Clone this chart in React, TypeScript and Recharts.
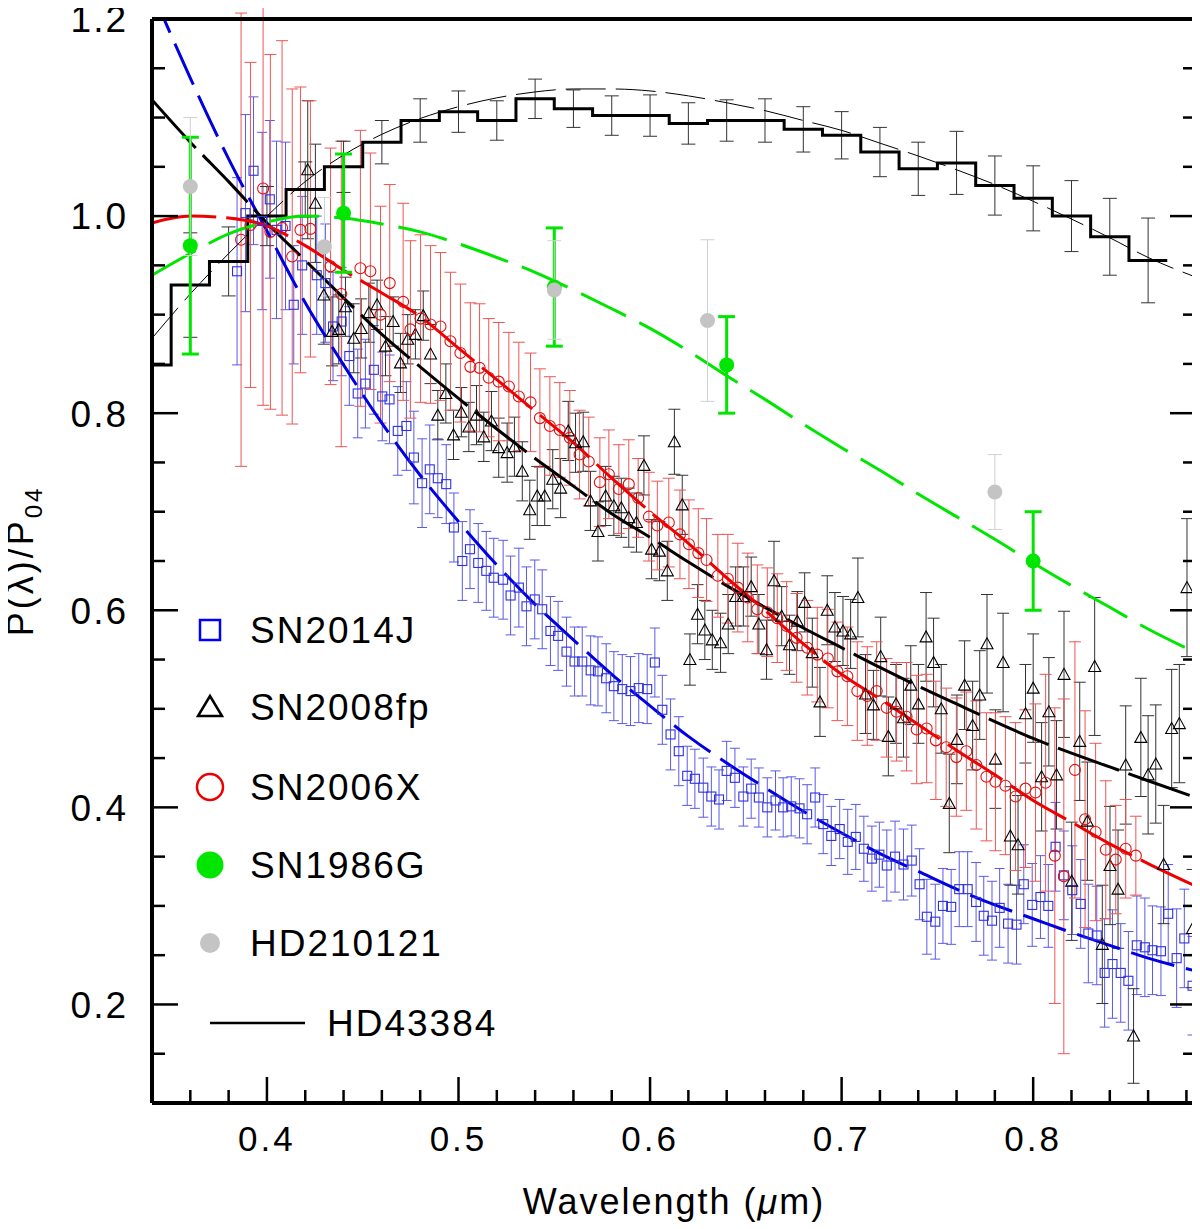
import { ComposedChart, ErrorBar, Legend, Line, Scatter, XAxis, YAxis } from "recharts";

// Observed polarisation, normalised at 0.4 um: [wavelength um, P/P04, 1-sigma]
const sn2014j: number[][] = [
  [0.3844, 0.944, 0.095], [0.3888, 1.003, 0.1], [0.393, 1.046, 0.075], [0.3975, 0.995, 0.09],
  [0.4015, 1.017, 0.08], [0.405, 0.986, 0.09], [0.4097, 0.99, 0.085], [0.414, 0.91, 0.06],
  [0.4184, 0.95, 0.07], [0.426, 0.94, 0.06], [0.4305, 0.932, 0.06], [0.4345, 0.888, 0.055],
  [0.439, 0.893, 0.055], [0.443, 0.858, 0.05], [0.4474, 0.82, 0.045], [0.4514, 0.83, 0.045],
  [0.4558, 0.844, 0.045], [0.4602, 0.817, 0.045], [0.464, 0.814, 0.045], [0.4683, 0.782, 0.045],
  [0.4728, 0.787, 0.045], [0.4767, 0.755, 0.047], [0.481, 0.729, 0.045], [0.485, 0.743, 0.045],
  [0.4892, 0.734, 0.04], [0.4936, 0.728, 0.04], [0.4976, 0.684, 0.035], [0.502, 0.65, 0.04],
  [0.506, 0.662, 0.04], [0.5103, 0.648, 0.04], [0.5145, 0.64, 0.04], [0.5184, 0.633, 0.04],
  [0.5233, 0.631, 0.04], [0.5272, 0.615, 0.04], [0.5315, 0.623, 0.04], [0.5355, 0.604, 0.04],
  [0.5398, 0.611, 0.04], [0.5437, 0.601, 0.04], [0.548, 0.579, 0.035], [0.552, 0.574, 0.035],
  [0.5564, 0.558, 0.035], [0.5606, 0.548, 0.035], [0.5646, 0.548, 0.035], [0.569, 0.539, 0.035],
  [0.5728, 0.538, 0.035], [0.5771, 0.531, 0.035], [0.5811, 0.523, 0.035], [0.5855, 0.52, 0.035],
  [0.5898, 0.518, 0.035], [0.5941, 0.521, 0.035], [0.5985, 0.52, 0.035], [0.6025, 0.547, 0.035],
  [0.6064, 0.499, 0.035], [0.6107, 0.474, 0.036], [0.615, 0.457, 0.035], [0.6194, 0.432, 0.03],
  [0.6234, 0.429, 0.03], [0.6278, 0.42, 0.03], [0.632, 0.411, 0.03], [0.636, 0.408, 0.03],
  [0.64, 0.437, 0.03], [0.6443, 0.43, 0.03], [0.6487, 0.411, 0.03], [0.6528, 0.419, 0.03],
  [0.6568, 0.41, 0.03], [0.6612, 0.4, 0.03], [0.6655, 0.407, 0.03], [0.6695, 0.4, 0.03],
  [0.6737, 0.401, 0.03], [0.678, 0.399, 0.03], [0.682, 0.393, 0.03], [0.6862, 0.41, 0.03],
  [0.6904, 0.383, 0.03], [0.6946, 0.371, 0.03], [0.699, 0.378, 0.03], [0.7032, 0.365, 0.033],
  [0.7074, 0.37, 0.033], [0.7116, 0.358, 0.033], [0.7158, 0.348, 0.033], [0.7197, 0.352, 0.033],
  [0.7236, 0.341, 0.036], [0.7279, 0.35, 0.036], [0.7323, 0.342, 0.036], [0.7366, 0.346, 0.036],
  [0.7407, 0.322, 0.036], [0.7445, 0.289, 0.038], [0.7489, 0.284, 0.038], [0.7529, 0.3, 0.038],
  [0.7572, 0.299, 0.038], [0.7614, 0.317, 0.038], [0.7658, 0.317, 0.038], [0.7702, 0.304, 0.04],
  [0.7742, 0.29, 0.04], [0.7785, 0.285, 0.04], [0.7825, 0.298, 0.04], [0.7869, 0.282, 0.04],
  [0.7913, 0.281, 0.04], [0.7951, 0.322, 0.04], [0.7995, 0.301, 0.042], [0.8038, 0.309, 0.042],
  [0.8079, 0.3, 0.042], [0.8117, 0.36, 0.045], [0.816, 0.331, 0.045], [0.8204, 0.316, 0.045],
  [0.8248, 0.302, 0.045], [0.8288, 0.272, 0.05], [0.8332, 0.27, 0.05], [0.8373, 0.232, 0.055],
  [0.8414, 0.241, 0.055], [0.8457, 0.232, 0.05], [0.8497, 0.224, 0.05], [0.8541, 0.26, 0.05],
  [0.8583, 0.258, 0.05], [0.8623, 0.255, 0.045], [0.8667, 0.254, 0.045], [0.8705, 0.292, 0.05],
  [0.8749, 0.247, 0.05], [0.8789, 0.267, 0.05], [0.8832, 0.219, 0.05],
];

const sn2008fp: number[][] = [
  [0.4213, 1.047, 0.07], [0.4253, 1.013, 0.06], [0.4297, 0.92, 0.05], [0.434, 0.883, 0.035],
  [0.4375, 0.885, 0.035], [0.441, 0.908, 0.03], [0.4453, 0.876, 0.035], [0.4492, 0.886, 0.03],
  [0.4532, 0.902, 0.03], [0.4575, 0.91, 0.025], [0.4619, 0.868, 0.03], [0.4659, 0.893, 0.025],
  [0.4697, 0.851, 0.03], [0.4735, 0.875, 0.025], [0.4775, 0.88, 0.025], [0.4816, 0.899, 0.025],
  [0.4854, 0.86, 0.03], [0.4892, 0.798, 0.025], [0.4934, 0.82, 0.03], [0.4974, 0.778, 0.025],
  [0.5015, 0.801, 0.025], [0.5054, 0.786, 0.025], [0.5094, 0.798, 0.03], [0.5132, 0.776, 0.025],
  [0.5172, 0.792, 0.03], [0.521, 0.765, 0.03], [0.5254, 0.76, 0.03], [0.5292, 0.766, 0.03],
  [0.5333, 0.741, 0.03], [0.5372, 0.702, 0.03], [0.5411, 0.716, 0.03], [0.545, 0.716, 0.03],
  [0.5492, 0.733, 0.03], [0.5533, 0.724, 0.03], [0.5573, 0.782, 0.03], [0.5611, 0.77, 0.03],
  [0.5651, 0.771, 0.03], [0.5689, 0.711, 0.03], [0.5728, 0.68, 0.03], [0.5768, 0.716, 0.03],
  [0.5811, 0.706, 0.03], [0.585, 0.704, 0.03], [0.5889, 0.694, 0.03], [0.5929, 0.689, 0.03],
  [0.5968, 0.747, 0.03], [0.6008, 0.662, 0.03], [0.6049, 0.66, 0.03], [0.609, 0.64, 0.03],
  [0.6127, 0.771, 0.033], [0.6168, 0.707, 0.03], [0.6208, 0.55, 0.026], [0.6248, 0.596, 0.03],
  [0.6286, 0.58, 0.03], [0.6325, 0.57, 0.03], [0.6368, 0.567, 0.03], [0.6408, 0.586, 0.03],
  [0.6447, 0.614, 0.03], [0.6487, 0.614, 0.03], [0.6528, 0.624, 0.03], [0.6568, 0.586, 0.03],
  [0.6608, 0.56, 0.03], [0.6647, 0.63, 0.04], [0.6687, 0.594, 0.03], [0.6728, 0.565, 0.03],
  [0.6769, 0.589, 0.03], [0.6807, 0.608, 0.03], [0.6847, 0.557, 0.035], [0.6887, 0.507, 0.035],
  [0.6925, 0.6, 0.035], [0.6965, 0.583, 0.035], [0.7007, 0.579, 0.035], [0.7047, 0.576, 0.035],
  [0.7085, 0.613, 0.04], [0.7125, 0.515, 0.04], [0.7166, 0.504, 0.035], [0.7204, 0.553, 0.04],
  [0.7244, 0.472, 0.04], [0.7284, 0.505, 0.04], [0.7323, 0.491, 0.04], [0.7361, 0.524, 0.04],
  [0.7401, 0.505, 0.04], [0.7441, 0.573, 0.045], [0.748, 0.547, 0.045], [0.752, 0.5, 0.045],
  [0.7562, 0.404, 0.05], [0.7602, 0.469, 0.045], [0.7642, 0.524, 0.045], [0.7684, 0.483, 0.045],
  [0.7721, 0.514, 0.045], [0.7759, 0.566, 0.05], [0.7803, 0.449, 0.05], [0.7843, 0.547, 0.05],
  [0.7881, 0.371, 0.05], [0.7921, 0.362, 0.05], [0.796, 0.495, 0.05], [0.8, 0.521, 0.055],
  [0.8044, 0.431, 0.055], [0.8082, 0.497, 0.055], [0.8122, 0.433, 0.055], [0.8161, 0.535, 0.064],
  [0.8201, 0.325, 0.06], [0.8243, 0.467, 0.06], [0.8283, 0.386, 0.06], [0.8321, 0.543, 0.07],
  [0.8361, 0.261, 0.06], [0.8401, 0.341, 0.06], [0.8443, 0.317, 0.06], [0.8483, 0.443, 0.06],
  [0.8524, 0.168, 0.048], [0.8562, 0.471, 0.06], [0.86, 0.433, 0.06], [0.864, 0.444, 0.06],
  [0.8681, 0.342, 0.06], [0.8723, 0.48, 0.06], [0.8763, 0.485, 0.06], [0.8803, 0.623, 0.07],
  [0.8832, 0.277, 0.06],
];

const sn2006x: number[][] = [
  [0.3865, 0.976, 0.23], [0.3914, 0.991, 0.165], [0.398, 1.028, 0.22], [0.4018, 0.984, 0.18],
  [0.4079, 0.988, 0.19], [0.4132, 0.959, 0.17], [0.4175, 0.986, 0.145], [0.4227, 0.987, 0.13],
  [0.4332, 0.949, 0.12], [0.4388, 0.921, 0.155], [0.4488, 0.947, 0.14], [0.454, 0.944, 0.12],
  [0.4593, 0.9, 0.11], [0.4641, 0.932, 0.1], [0.4711, 0.913, 0.1], [0.4749, 0.885, 0.09],
  [0.4802, 0.896, 0.085], [0.4854, 0.89, 0.08], [0.4906, 0.888, 0.075], [0.4958, 0.873, 0.07],
  [0.501, 0.861, 0.07], [0.5062, 0.847, 0.065], [0.511, 0.846, 0.065], [0.5158, 0.836, 0.06],
  [0.521, 0.832, 0.06], [0.5263, 0.827, 0.055], [0.5315, 0.817, 0.055], [0.5376, 0.811, 0.05],
  [0.5425, 0.795, 0.05], [0.5477, 0.787, 0.05], [0.5529, 0.783, 0.048], [0.5581, 0.775, 0.048],
  [0.5632, 0.758, 0.045], [0.568, 0.751, 0.045], [0.5738, 0.73, 0.045], [0.5785, 0.738, 0.045],
  [0.5837, 0.723, 0.045], [0.5889, 0.728, 0.045], [0.5938, 0.714, 0.04], [0.5994, 0.695, 0.045],
  [0.6038, 0.686, 0.045], [0.6098, 0.689, 0.045], [0.6156, 0.677, 0.045], [0.6203, 0.667, 0.045],
  [0.6252, 0.658, 0.045], [0.6295, 0.651, 0.042], [0.6354, 0.635, 0.042], [0.6406, 0.632, 0.045],
  [0.6458, 0.623, 0.045], [0.651, 0.613, 0.045], [0.656, 0.601, 0.045], [0.6612, 0.598, 0.045],
  [0.6664, 0.592, 0.045], [0.6713, 0.584, 0.045], [0.6765, 0.572, 0.045], [0.6821, 0.562, 0.048],
  [0.6873, 0.555, 0.048], [0.6928, 0.551, 0.05], [0.6978, 0.538, 0.05], [0.703, 0.533, 0.05],
  [0.7082, 0.518, 0.05], [0.7134, 0.513, 0.05], [0.7183, 0.518, 0.05], [0.7235, 0.501, 0.05],
  [0.7287, 0.497, 0.05], [0.7339, 0.492, 0.055], [0.7392, 0.479, 0.055], [0.7444, 0.48, 0.055],
  [0.7492, 0.468, 0.06], [0.7546, 0.461, 0.06], [0.7599, 0.451, 0.06], [0.7651, 0.457, 0.06],
  [0.7703, 0.443, 0.065], [0.7756, 0.431, 0.065], [0.7803, 0.426, 0.07], [0.7855, 0.422, 0.07],
  [0.7908, 0.411, 0.075], [0.796, 0.419, 0.08], [0.8012, 0.415, 0.09], [0.8065, 0.425, 0.11],
  [0.8113, 0.351, 0.15], [0.816, 0.33, 0.18], [0.8218, 0.438, 0.13], [0.8271, 0.388, 0.11],
  [0.8326, 0.375, 0.09], [0.8379, 0.357, 0.07], [0.8431, 0.347, 0.055], [0.8483, 0.358, 0.05],
  [0.8536, 0.351, 0.04],
];

const sn1986g: number[][] = [
  [0.36, 0.97, 0.11], [0.44, 1.003, 0.06], [0.55, 0.928, 0.06], [0.64, 0.849, 0.049], [0.8, 0.65, 0.05],
];

const hd210121: number[][] = [
  [0.36, 1.03, 0.07], [0.43, 0.969, 0.05], [0.55, 0.925, 0.05], [0.63, 0.894, 0.082], [0.78, 0.72, 0.038],
];

// HD43384 binned curve (bin centre, value, error)
const hd43384Bins = [
  0.34, 0.36, 0.38, 0.4, 0.42, 0.44, 0.46, 0.48, 0.5, 0.52, 0.54, 0.56, 0.58, 0.6,
  0.62, 0.64, 0.66, 0.68, 0.7, 0.72, 0.74, 0.76, 0.78, 0.8, 0.82, 0.84, 0.86,
];
const hd43384Values = [
  0.849, 0.93, 0.954, 1.0, 1.027, 1.05, 1.075, 1.097, 1.106, 1.097, 1.119, 1.109, 1.102, 1.102,
  1.094, 1.097, 1.097, 1.088, 1.082, 1.065, 1.048, 1.054, 1.031, 1.018, 1.0, 0.979, 0.955,
];
const hd43384Errors = [
  null, 0.053, 0.035, 0.03, 0.028, 0.026, 0.022, 0.022, 0.021, 0.02, 0.02, 0.019, 0.02, 0.021,
  0.021, 0.021, 0.022, 0.023, 0.024, 0.025, 0.027, 0.032, 0.03, 0.033, 0.036, 0.039, 0.043,
];

// Fitted curves on a common wavelength grid
const fitGrid = [
  0.34, 0.36, 0.38, 0.4, 0.42, 0.44, 0.46, 0.48, 0.5, 0.52, 0.54, 0.56, 0.58, 0.6,
  0.62, 0.64, 0.66, 0.68, 0.7, 0.72, 0.74, 0.76, 0.78, 0.8, 0.82, 0.84, 0.86, 0.885,
];
const fitSN2014J = [
  1.228, 1.14, 1.058, 0.985, 0.912, 0.849, 0.79, 0.737, 0.69, 0.646, 0.606, 0.57, 0.535, 0.503,
  0.472, 0.445, 0.42, 0.396, 0.374, 0.353, 0.335, 0.317, 0.301, 0.287, 0.273, 0.26, 0.247, 0.234,
];
const fitSN2008fp = [
  1.118, 1.075, 1.035, 0.993, 0.955, 0.917, 0.88, 0.847, 0.815, 0.784, 0.754, 0.726, 0.698, 0.674,
  0.649, 0.625, 0.603, 0.582, 0.562, 0.542, 0.523, 0.505, 0.487, 0.47, 0.455, 0.441, 0.427, 0.41,
];
const fitSN2006X = [
  0.993, 1.0, 0.998, 0.99, 0.97, 0.945, 0.922, 0.898, 0.866, 0.834, 0.802, 0.77, 0.734, 0.7,
  0.668, 0.633, 0.6, 0.566, 0.535, 0.51, 0.484, 0.458, 0.433, 0.407, 0.385, 0.363, 0.343, 0.32,
];
const fitSN1986G = [
  0.94, 0.962, 0.982, 0.994, 1.0, 0.998, 0.992, 0.984, 0.972, 0.958, 0.943, 0.925, 0.906, 0.886,
  0.863, 0.838, 0.814, 0.789, 0.765, 0.742, 0.718, 0.695, 0.672, 0.648, 0.625, 0.603, 0.581, 0.557,
];
const fitHD43384 = [
  0.876, 0.921, 0.962, 1.0, 1.035, 1.062, 1.083, 1.099, 1.111, 1.12, 1.126, 1.129, 1.129, 1.127,
  1.122, 1.115, 1.107, 1.097, 1.087, 1.074, 1.061, 1.047, 1.032, 1.015, 0.997, 0.978, 0.958, 0.938,
];

const xTicks = [
  0.34, 0.36, 0.38, 0.4, 0.42, 0.44, 0.46, 0.48, 0.5, 0.52, 0.54, 0.56, 0.58, 0.6,
  0.62, 0.64, 0.66, 0.68, 0.7, 0.72, 0.74, 0.76, 0.78, 0.8, 0.82, 0.84, 0.86, 0.88,
];
const yTicks = [
  0.1, 0.15, 0.2, 0.25, 0.3, 0.35, 0.4, 0.45, 0.5, 0.55, 0.6, 0.65,
  0.7, 0.75, 0.8, 0.85, 0.9, 0.95, 1.0, 1.05, 1.1, 1.15, 1.2,
];

const legendNames = ["SN2014J", "SN2008fp", "SN2006X", "SN1986G", "HD210121", "HD43384"];

const FONT = '"Liberation Sans", Arial, sans-serif';
const X_DOMAIN: [number, number] = [0.34, 0.885];
const Y_DOMAIN: [number, number] = [0.1, 1.2];

const toPoints = (rows: number[][]) => rows.map(([x, y, e]) => ({ x, y, e }));
const fitRows = (ys: number[]) => fitGrid.map((x, i) => ({ x, y: ys[i] }));

// step edges sit half a bin (0.01 um) either side of the bin centres
const histStep = [
  ...hd43384Bins.map((c, i) => ({ x: c - 0.01, y: hd43384Values[i] })),
  { x: hd43384Bins[hd43384Bins.length - 1] + 0.01, y: hd43384Values[hd43384Values.length - 1] },
];
const histErr = hd43384Bins
  .map((x, i) => ({ x, y: hd43384Values[i], e: hd43384Errors[i] }))
  .filter((p) => p.e != null);

const isMajorX = (v: number) => Math.abs(v * 10 - Math.round(v * 10)) < 1e-6;
const isMajorY = (v: number) => Math.abs(v * 5 - Math.round(v * 5)) < 1e-6;
const MAJOR = 26;
const MINOR = 13;

function BottomTick({ x, y, payload }: any) {
  const major = isMajorX(payload.value);
  return (
    <g>
      <line x1={x} x2={x} y1={y} y2={y - (major ? MAJOR : MINOR)} stroke="#000" strokeWidth={2.5} />
      {major && (
        <text x={x} y={y + 48} textAnchor="middle" fontSize={35} letterSpacing={3} fontFamily={FONT} fill="#000">
          {payload.value.toFixed(1)}
        </text>
      )}
    </g>
  );
}

function TopTick({ x, y, payload }: any) {
  const major = isMajorX(payload.value);
  return <line x1={x} x2={x} y1={y} y2={y + (major ? MAJOR : MINOR)} stroke="#000" strokeWidth={2.5} />;
}

function LeftTick({ x, y, payload }: any) {
  const major = isMajorY(payload.value);
  return (
    <g>
      <line x1={x} x2={x + (major ? MAJOR : MINOR)} y1={y} y2={y} stroke="#000" strokeWidth={2.5} />
      {major && (
        <text x={x - 24} y={y} dy="0.36em" textAnchor="end" fontSize={37} letterSpacing={2} fontFamily={FONT} fill="#000">
          {payload.value.toFixed(1)}
        </text>
      )}
    </g>
  );
}

function RightTick({ x, y, payload }: any) {
  const major = isMajorY(payload.value);
  return <line x1={x} x2={x - (major ? MAJOR : MINOR)} y1={y} y2={y} stroke="#000" strokeWidth={2.5} />;
}

function XTitle({ viewBox }: any) {
  return (
    <text x={viewBox.x + viewBox.width / 2} y={1214} textAnchor="middle" fontSize={36} letterSpacing={2} fontFamily={FONT} fill="#000">
      Wavelength (<tspan fontStyle="italic">μ</tspan>m)
    </text>
  );
}

function YTitle({ viewBox }: any) {
  const cy = viewBox.y + viewBox.height / 2;
  return (
    <text transform={`translate(33, ${cy}) rotate(-90)`} textAnchor="middle" fontSize={36} letterSpacing={3} fontFamily={FONT} fill="#000">
      P(λ)/P<tspan fontSize={24} dy={9}>04</tspan>
    </text>
  );
}

const BlueSquare = ({ cx, cy }: any) =>
  cx == null ? null : <rect x={cx - 4.5} y={cy - 4.5} width={9} height={9} fill="none" stroke="#3030e0" strokeWidth={1.1} />;
const BlackTriangle = ({ cx, cy }: any) =>
  cx == null ? null : (
    <polygon points={`${cx},${cy - 6} ${cx - 6},${cy + 5} ${cx + 6},${cy + 5}`} fill="none" stroke="#000" strokeWidth={1.1} />
  );
const RedCircle = ({ cx, cy }: any) =>
  cx == null ? null : <circle cx={cx} cy={cy} r={5.5} fill="none" stroke="#e01010" strokeWidth={1.1} />;
const GreenDot = ({ cx, cy }: any) => (cx == null ? null : <circle cx={cx} cy={cy} r={7.5} fill="#00e600" />);
const GreyDot = ({ cx, cy }: any) => (cx == null ? null : <circle cx={cx} cy={cy} r={7.5} fill="#c4c4c4" />);
const NoMark = () => <g />;

function LegendBox() {
  const rows = [630, 707, 787, 865, 943, 1023];
  const mx = 210;
  return (
    <svg width={1200} height={1229} style={{ position: "absolute", left: 0, top: 0, pointerEvents: "none" }}>
      <rect x={mx - 10} y={rows[0] - 10} width={20} height={20} fill="none" stroke="#0000ff" strokeWidth={2.5} />
      <polygon
        points={`${mx},${rows[1] - 11} ${mx - 12},${rows[1] + 9} ${mx + 12},${rows[1] + 9}`}
        fill="none"
        stroke="#000"
        strokeWidth={2.5}
      />
      <circle cx={mx} cy={rows[2]} r={13} fill="none" stroke="#ee0000" strokeWidth={2.5} />
      <circle cx={mx} cy={rows[3]} r={13.5} fill="#00e600" />
      <circle cx={mx} cy={rows[4]} r={10} fill="#c4c4c4" />
      <line x1={mx} x2={305} y1={rows[5]} y2={rows[5]} stroke="#000" strokeWidth={2.5} />
      {legendNames.map((name, i) => (
        <text
          key={name}
          x={i === 5 ? 327 : 250}
          y={rows[i]}
          dy="0.36em"
          fontSize={37}
          letterSpacing={2}
          fontFamily={FONT}
          fill="#000"
        >
          {name}
        </text>
      ))}
    </svg>
  );
}

export default function App() {
  return (
    <div style={{ width: 1200, height: 1229, margin: "-8px 0 0 -8px", background: "#fff", position: "relative" }}>
      <ComposedChart width={1200} height={1229} margin={{ top: 0, right: 0, bottom: 66, left: 92 }}>
        <XAxis
          type="number"
          dataKey="x"
          domain={X_DOMAIN}
          allowDataOverflow
          ticks={xTicks}
          interval={0}
          height={60}
          tickSize={0}
          tickMargin={0}
          tickLine={false}
          tick={<BottomTick />}
          axisLine={{ stroke: "#000", strokeWidth: 4 }}
          label={<XTitle />}
        />
        <XAxis
          xAxisId="top"
          orientation="top"
          type="number"
          domain={X_DOMAIN}
          allowDataOverflow
          ticks={xTicks}
          interval={0}
          height={19}
          tickSize={0}
          tickMargin={0}
          tickLine={false}
          tick={<TopTick />}
          axisLine={{ stroke: "#000", strokeWidth: 4 }}
        />
        <YAxis
          type="number"
          dataKey="y"
          domain={Y_DOMAIN}
          allowDataOverflow
          ticks={yTicks}
          interval={0}
          width={60}
          tickSize={0}
          tickMargin={0}
          tickLine={false}
          tick={<LeftTick />}
          axisLine={{ stroke: "#000", strokeWidth: 4 }}
          label={<YTitle />}
        />
        <YAxis
          yAxisId="right"
          orientation="right"
          type="number"
          domain={Y_DOMAIN}
          allowDataOverflow
          ticks={yTicks}
          interval={0}
          width={4}
          tickSize={0}
          tickMargin={0}
          tickLine={false}
          tick={<RightTick />}
          axisLine={{ stroke: "#000", strokeWidth: 4 }}
        />
        <Legend
          layout="vertical"
          align="center"
          verticalAlign="middle"
          content={<LegendBox />}
          wrapperStyle={{ left: 0, top: 0, width: 1200, height: 1229, pointerEvents: "none" }}
        />

        <Scatter data={toPoints(sn2014j)} shape={<BlueSquare />} isAnimationActive={false}>
          <ErrorBar dataKey="e" direction="y" width={5} stroke="#5a5ae8" strokeWidth={1} isAnimationActive={false} />
        </Scatter>
        <Scatter data={toPoints(sn2008fp)} shape={<BlackTriangle />} isAnimationActive={false}>
          <ErrorBar dataKey="e" direction="y" width={6} stroke="#333" strokeWidth={1} isAnimationActive={false} />
        </Scatter>
        <Scatter data={toPoints(sn2006x)} shape={<RedCircle />} isAnimationActive={false}>
          <ErrorBar dataKey="e" direction="y" width={6} stroke="#ee5555" strokeWidth={1} isAnimationActive={false} />
        </Scatter>

        <Scatter data={histErr} shape={<NoMark />} isAnimationActive={false}>
          <ErrorBar dataKey="e" direction="y" width={7} stroke="#333" strokeWidth={1} isAnimationActive={false} />
        </Scatter>
        <Line data={histStep} dataKey="y" type="stepAfter" stroke="#000" strokeWidth={3} dot={false} activeDot={false} isAnimationActive={false} />
        <Line data={fitRows(fitHD43384)} dataKey="y" type="monotone" stroke="#000" strokeWidth={1} strokeDasharray="40 10" dot={false} activeDot={false} isAnimationActive={false} />

        <Line data={fitRows(fitSN2014J)} dataKey="y" type="monotone" stroke="#0000e0" strokeWidth={3} strokeDasharray="45 12" dot={false} activeDot={false} isAnimationActive={false} />
        <Line data={fitRows(fitSN2008fp)} dataKey="y" type="monotone" stroke="#000" strokeWidth={3} strokeDasharray="65 10" dot={false} activeDot={false} isAnimationActive={false} />
        <Line data={fitRows(fitSN2006X)} dataKey="y" type="monotone" stroke="#ee0000" strokeWidth={3} strokeDasharray="65 10" dot={false} activeDot={false} isAnimationActive={false} />
        <Line data={fitRows(fitSN1986G)} dataKey="y" type="monotone" stroke="#00e600" strokeWidth={3} strokeDasharray="50 15" dot={false} activeDot={false} isAnimationActive={false} />

        <Scatter data={toPoints(sn1986g)} shape={<GreenDot />} isAnimationActive={false}>
          <ErrorBar dataKey="e" direction="y" width={8.5} stroke="#00e600" strokeWidth={3} isAnimationActive={false} />
        </Scatter>
        <Scatter data={toPoints(hd210121)} shape={<GreyDot />} isAnimationActive={false}>
          <ErrorBar dataKey="e" direction="y" width={7} stroke="#d0d0d0" strokeWidth={1} isAnimationActive={false} />
        </Scatter>
      </ComposedChart>
    </div>
  );
}
